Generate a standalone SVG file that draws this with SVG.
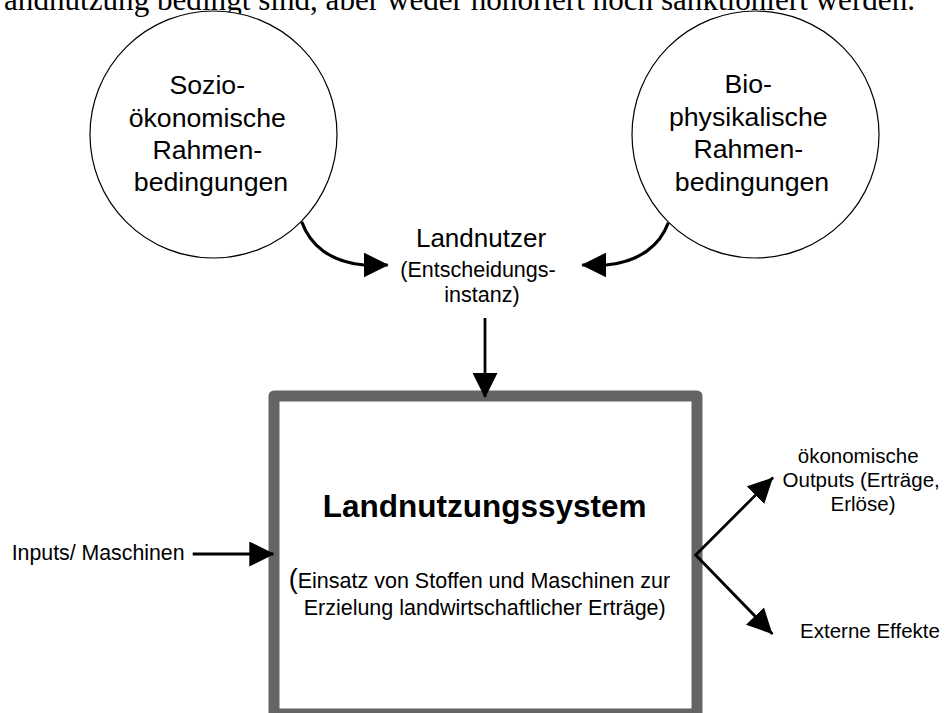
<svg xmlns="http://www.w3.org/2000/svg" width="947" height="713" viewBox="0 0 947 713">
  <style>
    .sans { font-family: "Liberation Sans", Arial, sans-serif; fill: #000; }
    .serif { font-family: "Liberation Serif", "Times New Roman", serif; fill: #000; }
    .circle { fill: #fff; stroke: #000; stroke-width: 1.2; }
    .conn { fill: none; stroke: #000; stroke-width: 2.8; }
    .curve { fill: none; stroke: #000; stroke-width: 3.2; }
  </style>
  <defs>
    <marker id="arrow" viewBox="0 0 25 25" refX="24" refY="12.5" markerWidth="25" markerHeight="25" markerUnits="userSpaceOnUse" orient="auto">
      <path d="M0,0 L25,12.5 L0,25 Z" fill="#000"/>
    </marker>
  </defs>

  <rect width="947" height="713" fill="#fff"/>

  <text class="serif" x="4" y="9.5" font-size="31" textLength="911" lengthAdjust="spacingAndGlyphs">andnutzung bedingt sind, aber weder honoriert noch sanktioniert werden.</text>

  <g id="node-sozio">
    <circle class="circle" cx="213.5" cy="134.5" r="123.5"/>
    <text class="sans" font-size="26.7" text-anchor="middle">
      <tspan x="211" y="94">Sozio-</tspan>
      <tspan x="211" y="126.5">ökonomische</tspan>
      <tspan x="211" y="158.5">Rahmen-</tspan>
      <tspan x="211" y="191">bedingungen</tspan>
    </text>
  </g>

  <g id="node-bio">
    <circle class="circle" cx="755.5" cy="134.5" r="123.5"/>
    <text class="sans" font-size="26.7" text-anchor="middle">
      <tspan x="752" y="93">Bio-</tspan>
      <tspan x="752" y="125.5">physikalische</tspan>
      <tspan x="752" y="158">Rahmen-</tspan>
      <tspan x="752" y="190.5">bedingungen</tspan>
    </text>
  </g>

  <g id="node-landnutzer">
    <text class="sans" x="481" y="247" font-size="26" text-anchor="middle">Landnutzer</text>
    <text class="sans" font-size="21.5" text-anchor="middle">
      <tspan x="481" y="277">(Entscheidungs-</tspan>
      <tspan x="482" y="302">instanz)</tspan>
    </text>
  </g>

  <g id="node-system">
    <rect x="274" y="396" width="423" height="318" fill="#fff" stroke="#646464" stroke-width="11" stroke-linejoin="round"/>
    <text class="sans" x="484.7" y="517" font-size="31.5" font-weight="bold" text-anchor="middle">Landnutzungssystem</text>
    <text class="sans" font-size="21.5" text-anchor="middle">
      <tspan x="482.5" y="587.5"><tspan font-size="27">(</tspan>Einsatz von Stoffen und Maschinen zur</tspan>
      <tspan x="484.7" y="615">Erzielung landwirtschaftlicher Erträge)</tspan>
    </text>
  </g>

  <g id="node-inputs">
    <text class="sans" x="11.7" y="560" font-size="21.3">Inputs/ Maschinen</text>
  </g>

  <g id="node-outputs">
    <text class="sans" font-size="20.5" text-anchor="middle">
      <tspan x="861" y="463">ökonomische</tspan>
      <tspan x="864" y="487">Outputs (Erträge,</tspan>
      <tspan x="863" y="511">Erlöse)</tspan>
    </text>
  </g>

  <g id="node-extern">
    <text class="sans" x="870" y="638" font-size="20.5" text-anchor="middle">Externe Effekte</text>
  </g>

  <g id="connectors">
    <path class="curve" d="M301.7,221.7 C310,245 330,262 364,265 L387.7,265" marker-end="url(#arrow)"/>
    <path class="curve" d="M668.3,222.7 C660,245 640,262 606,265 L582.3,265" marker-end="url(#arrow)"/>
    <line class="conn" x1="485" y1="318" x2="485" y2="397" marker-end="url(#arrow)"/>
    <line class="conn" x1="192.7" y1="554" x2="273.3" y2="554" marker-end="url(#arrow)"/>
    <line class="conn" x1="695.7" y1="555" x2="772.3" y2="478.3" stroke-linecap="round" marker-end="url(#arrow)"/>
    <line class="conn" x1="695.7" y1="555" x2="771.7" y2="633.3" stroke-linecap="round" marker-end="url(#arrow)"/>
  </g>
</svg>
